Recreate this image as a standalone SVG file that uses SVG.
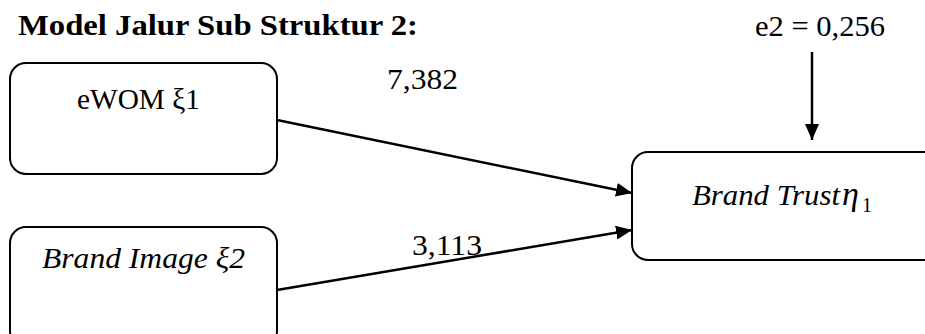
<svg xmlns="http://www.w3.org/2000/svg" width="925" height="334" viewBox="0 0 925 334">
<style>
.box{fill:#fff;stroke:#000;stroke-width:2}
.t{font-family:'Liberation Serif',Tinos,'Times New Roman',Times,serif;font-size:29px;fill:#000}
.i{font-style:italic}
.b{font-weight:bold}
.c{stroke:#000;stroke-width:2.5;fill:none}
</style>
<defs>
<marker id="ah" markerUnits="userSpaceOnUse" markerWidth="18" markerHeight="14" refX="16" refY="7" orient="auto">
<path d="M0,0 L16,7 L0,14 Z" fill="#000"/>
</marker>
</defs>
<rect width="925" height="334" fill="#fff"/>
<text class="t b" x="18" y="35" font-size="30" textLength="400" lengthAdjust="spacingAndGlyphs">Model Jalur Sub Struktur 2:</text>
<text class="t" x="755" y="36" textLength="130" lengthAdjust="spacingAndGlyphs">e2 = 0,256</text>
<g id="eWOM">
<rect class="box" x="10" y="63" width="267" height="111" rx="16"/>
<text class="t" x="77" y="109" textLength="123" lengthAdjust="spacingAndGlyphs">eWOM ξ1</text>
</g>
<g id="brandImage">
<rect class="box" x="10" y="227" width="267" height="120" rx="16"/>
<text class="t i" x="42" y="268" textLength="203" lengthAdjust="spacingAndGlyphs">Brand Image ξ2</text>
</g>
<g id="brandTrust">
<rect class="box" x="632" y="152" width="310" height="108" rx="16"/>
<text class="t i" x="692" y="205"><tspan textLength="148" lengthAdjust="spacingAndGlyphs">Brand Trust</tspan><tspan x="842" font-size="34">η</tspan><tspan x="862" y="212" font-size="20" font-style="normal">1</tspan></text>
</g>
<g id="connectors">
<line class="c" x1="277" y1="120" x2="632" y2="193" marker-end="url(#ah)"/>
<line class="c" x1="277" y1="290" x2="632" y2="230" marker-end="url(#ah)"/>
<line class="c" x1="812" y1="52" x2="812" y2="140" marker-end="url(#ah)"/>
<text class="t" x="387" y="89" textLength="71" lengthAdjust="spacingAndGlyphs">7,382</text>
<text class="t" x="412" y="255" textLength="70" lengthAdjust="spacingAndGlyphs">3,113</text>
</g>
</svg>
